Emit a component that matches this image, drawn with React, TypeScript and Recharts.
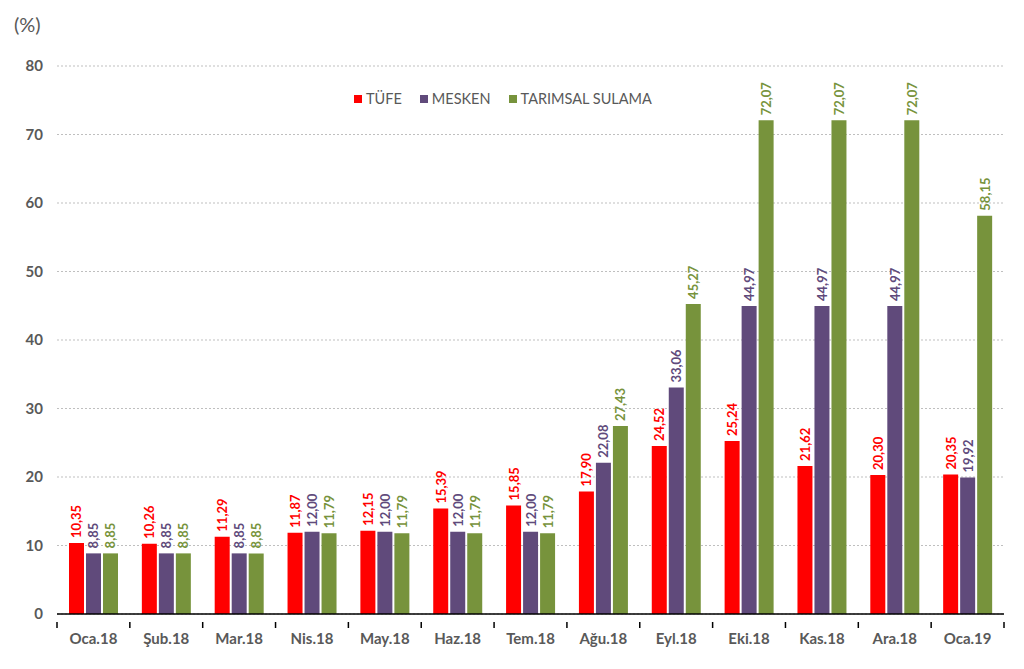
import React from 'react';
import { BarChart, Bar, XAxis, YAxis, CartesianGrid, LabelList } from 'recharts';

const categories = ['Oca.18', 'Şub.18', 'Mar.18', 'Nis.18', 'May.18', 'Haz.18', 'Tem.18', 'Ağu.18', 'Eyl.18', 'Eki.18', 'Kas.18', 'Ara.18', 'Oca.19'];
const tufe = [10.35, 10.26, 11.29, 11.87, 12.15, 15.39, 15.85, 17.9, 24.52, 25.24, 21.62, 20.3, 20.35];
const mesken = [8.85, 8.85, 8.85, 12.0, 12.0, 12.0, 12.0, 22.08, 33.06, 44.97, 44.97, 44.97, 19.92];
const tarimsal = [8.85, 8.85, 8.85, 11.79, 11.79, 11.79, 11.79, 27.43, 45.27, 72.07, 72.07, 72.07, 58.15];
const yTicks = [0, 10, 20, 30, 40, 50, 60, 70, 80];
const seriesNames = ['TÜFE', 'MESKEN', 'TARIMSAL SULAMA'];
const seriesKeys = ['tufe', 'mesken', 'tarimsal'];
const seriesColors = ['#FF0000', '#604A7B', '#77933C'];

const data = categories.map((c, i) => ({ name: c, tufe: tufe[i], mesken: mesken[i], tarimsal: tarimsal[i] }));

const FONT = 'Lato, "Open Sans", sans-serif';
const GRAY = '#595959';
const W = 1024;
const H = 669;
const M = { top: 66, right: 20, left: 0, bottom: 25 };
const YW = 57;
const plotW = W - M.left - M.right - YW;
const band = plotW / categories.length;

const makeLabel = (color: string) => (props: any) => {
  const { x, y, width, value } = props;
  const cx = x + width / 2;
  const cy = y - 5;
  return (
    <text
      x={cx}
      y={cy}
      transform={`rotate(-90 ${cx} ${cy})`}
      textAnchor="start"
      dominantBaseline="central"
      fill={color}
      fontFamily={FONT}
      fontWeight="bold"
      fontSize={13}
    >
      {Number(value).toFixed(2).replace('.', ',')}
    </text>
  );
};

const XTick = (props: any) => {
  const { x, y, payload, index } = props;
  const left = x - band / 2;
  const right = x + band / 2;
  const top = y;
  return (
    <g>
      <line x1={left} y1={top} x2={left} y2={top + 6} stroke="#000" strokeWidth={1.5} />
      {index === categories.length - 1 && (
        <line x1={right} y1={top} x2={right} y2={top + 6} stroke="#000" strokeWidth={1.5} />
      )}
      <text x={x} y={y + 22} textAnchor="middle" fill={GRAY} fontFamily={FONT} fontWeight="bold" fontSize={15}>
        {payload.value}
      </text>
    </g>
  );
};

export default function App() {
  return (
    <div style={{ position: 'absolute', left: 0, top: 0, width: W, height: H, background: '#fff' }}>
      <div style={{ position: 'absolute', left: 14, top: 12, fontFamily: FONT, fontSize: 20, color: GRAY }}>(%)</div>
      <div
        style={{
          position: 'absolute',
          left: 354,
          top: 90,
          display: 'flex',
          alignItems: 'center',
          fontFamily: FONT,
          fontSize: 14.5,
          color: GRAY,
          zIndex: 2,
        }}
      >
        {seriesNames.map((n, i) => (
          <div key={n} style={{ display: 'flex', alignItems: 'center', marginRight: 18 }}>
            <span style={{ display: 'inline-block', width: 8, height: 8, background: seriesColors[i], marginRight: 4 }} />
            <span>{n}</span>
          </div>
        ))}
      </div>
      <BarChart width={W} height={H} data={data} margin={M} barSize={15} barGap={2}>
        <CartesianGrid vertical={false} stroke="#BFBFBF" strokeDasharray="2 2" />
        <XAxis
          dataKey="name"
          tick={<XTick />}
          tickLine={false}
          axisLine={{ stroke: '#000', strokeWidth: 1.5 }}
          height={30}
          interval={0}
        />
        <YAxis
          width={YW}
          domain={[0, 80]}
          ticks={yTicks}
          axisLine={false}
          tickLine={false}
          tickSize={0}
          tickMargin={14}
          tick={{ fill: GRAY, fontFamily: FONT, fontWeight: 'bold', fontSize: 15 }}
        />
        {seriesKeys.map((k, i) => (
          <Bar key={k} dataKey={k} name={seriesNames[i]} fill={seriesColors[i]} isAnimationActive={false}>
            <LabelList dataKey={k} content={makeLabel(seriesColors[i])} />
          </Bar>
        ))}
      </BarChart>
    </div>
  );
}
